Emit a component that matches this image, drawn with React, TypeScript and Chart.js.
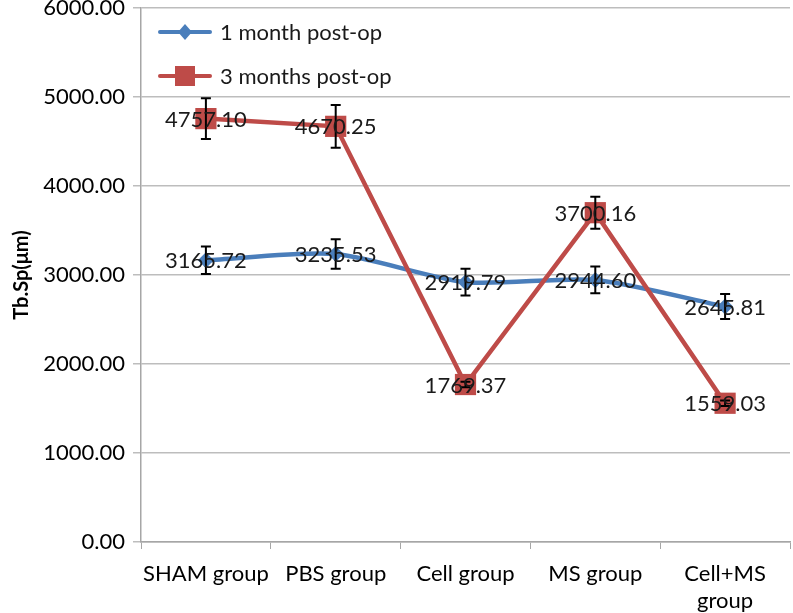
import React, { useEffect, useRef } from "react";
import { Chart, registerables } from "chart.js";

Chart.register(...registerables);

const categories: (string | string[])[] = ["SHAM group", "PBS group", "Cell group", "MS group", ["Cell+MS", "group"]];
const oneMonth = [3165.72, 3235.53, 2919.79, 2944.6, 2645.81];
const threeMonths = [4757.1, 4670.25, 1769.37, 3700.16, 1559.03];
const oneMonthErr = [155, 165, 150, 150, 140];
const threeMonthsErr = [230, 240, 30, 180, 30];
const seriesNames = ["1 month post-op", "3 months post-op"];
const yTicks = [0, 1000, 2000, 3000, 4000, 5000, 6000];

const BLUE = "#4A7EBB";
const RED = "#BE4B48";
const FONT = "Lato, 'Open Sans', sans-serif";

const errorBarPlugin = {
  id: "errorBars",
  afterDatasetsDraw(chart: any) {
    const ctx = chart.ctx;
    const y = chart.scales.y;
    const errs = [oneMonthErr, threeMonthsErr];
    ctx.save();
    ctx.strokeStyle = "#000";
    ctx.lineWidth = 2;
    chart.data.datasets.forEach((ds: any, di: number) => {
      const meta = chart.getDatasetMeta(di);
      meta.data.forEach((pt: any, i: number) => {
        const v = ds.data[i];
        const e = errs[di][i];
        const yt = y.getPixelForValue(v + e);
        const yb = y.getPixelForValue(v - e);
        const x = pt.x;
        ctx.beginPath();
        ctx.moveTo(x, yt);
        ctx.lineTo(x, yb);
        ctx.moveTo(x - 5, yt);
        ctx.lineTo(x + 5, yt);
        ctx.moveTo(x - 5, yb);
        ctx.lineTo(x + 5, yb);
        ctx.stroke();
      });
    });
    ctx.restore();
  },
};

const labelPlugin = {
  id: "valueLabels",
  afterDatasetsDraw(chart: any) {
    const ctx = chart.ctx;
    ctx.save();
    ctx.font = `22px ${FONT}`;
    ctx.fillStyle = "#1a1a1a";
    ctx.textAlign = "center";
    ctx.textBaseline = "middle";
    chart.data.datasets.forEach((ds: any, di: number) => {
      const meta = chart.getDatasetMeta(di);
      meta.data.forEach((pt: any, i: number) => {
        ctx.fillText(Number(ds.data[i]).toFixed(2), pt.x, pt.y + 1);
      });
    });
    ctx.restore();
  },
};

const legendPlugin = {
  id: "insideLegend",
  afterDraw(chart: any) {
    const ctx = chart.ctx;
    const x0 = 160;
    const rows = [
      { y: 32, color: BLUE, shape: "diamond", text: seriesNames[0] },
      { y: 76, color: RED, shape: "square", text: seriesNames[1] },
    ];
    ctx.save();
    rows.forEach((r) => {
      ctx.strokeStyle = r.color;
      ctx.lineWidth = 4;
      ctx.lineCap = "round";
      ctx.beginPath();
      ctx.moveTo(x0, r.y);
      ctx.lineTo(x0 + 50, r.y);
      ctx.stroke();
      ctx.fillStyle = r.color;
      const cx = x0 + 25;
      ctx.beginPath();
      if (r.shape === "diamond") {
        ctx.moveTo(cx, r.y - 8);
        ctx.lineTo(cx + 7, r.y);
        ctx.lineTo(cx, r.y + 8);
        ctx.lineTo(cx - 7, r.y);
        ctx.closePath();
      } else {
        ctx.rect(cx - 10, r.y - 10, 20, 20);
      }
      ctx.fill();
      ctx.fillStyle = "#1a1a1a";
      ctx.font = `22px ${FONT}`;
      ctx.textAlign = "left";
      ctx.textBaseline = "middle";
      ctx.fillText(r.text, x0 + 60, r.y + 1);
    });
    ctx.restore();
  },
};

export default function App() {
  const ref = useRef<HTMLCanvasElement>(null);
  useEffect(() => {
    if (!ref.current) return;
    const chart = new Chart(ref.current, {
      type: "line",
      data: {
        labels: categories,
        datasets: [
          {
            label: seriesNames[0],
            data: oneMonth,
            borderColor: BLUE,
            backgroundColor: BLUE,
            borderWidth: 4.5,
            pointStyle: "rectRot",
            pointRadius: 8,
            pointBorderWidth: 0,
            tension: 0.25,
            order: 2,
          },
          {
            label: seriesNames[1],
            data: threeMonths,
            borderColor: RED,
            backgroundColor: RED,
            borderWidth: 4.5,
            pointStyle: "rect",
            pointRadius: 15,
            pointBorderWidth: 0,
            tension: 0,
            order: 1,
          },
        ],
      },
      options: {
        animation: false,
        responsive: false,
        maintainAspectRatio: false,
        layout: { autoPadding: false, padding: { top: 8, right: 3, left: 0, bottom: 0 } },
        plugins: { legend: { display: false }, tooltip: { enabled: false } },
        scales: {
          x: {
            offset: true,
            grid: {
              offset: true,
              drawOnChartArea: false,
              drawTicks: true,
              tickLength: 7,
              color: "#a6a6a6",
            },
            border: { color: "#a6a6a6", width: 1.5 },
            ticks: {
              color: "#000",
              font: { family: FONT, size: 22 },
              padding: 12,
              maxRotation: 0,
              autoSkip: false,
            },
            afterFit: (s: any) => {
              s.height = 613 - 542;
              s.paddingLeft = 0;
              s.paddingRight = 0;
            },
          },
          y: {
            min: 0,
            max: 6000,
            afterBuildTicks: (s: any) => {
              s.ticks = yTicks.map((v) => ({ value: v }));
            },
            grid: {
              color: "#bdbdbd",
              lineWidth: 1.5,
              tickLength: 8,
              drawTicks: true,
            },
            border: { color: "#a6a6a6", width: 1.5 },
            ticks: {
              color: "#000",
              font: { family: FONT, size: 22 },
              padding: 8,
              callback: (v: any) => Number(v).toFixed(2),
            },
            title: {
              display: true,
              text: "Tb.Sp(μm)",
              color: "#000",
              font: { family: FONT, size: 20, weight: "bold" },
              padding: { top: 10, bottom: 0 },
            },
            afterFit: (s: any) => {
              s.width = 141;
              s.paddingTop = 0;
              s.paddingBottom = 0;
            },
          },
        },
      },
      plugins: [errorBarPlugin, labelPlugin, legendPlugin],
    });
    return () => chart.destroy();
  }, []);
  return (
    <div style={{ position: "fixed", left: 0, top: 0, width: 793, height: 613, background: "#fff" }}>
      <canvas ref={ref} width={793} height={613} style={{ width: 793, height: 613, display: "block" }} />
    </div>
  );
}
